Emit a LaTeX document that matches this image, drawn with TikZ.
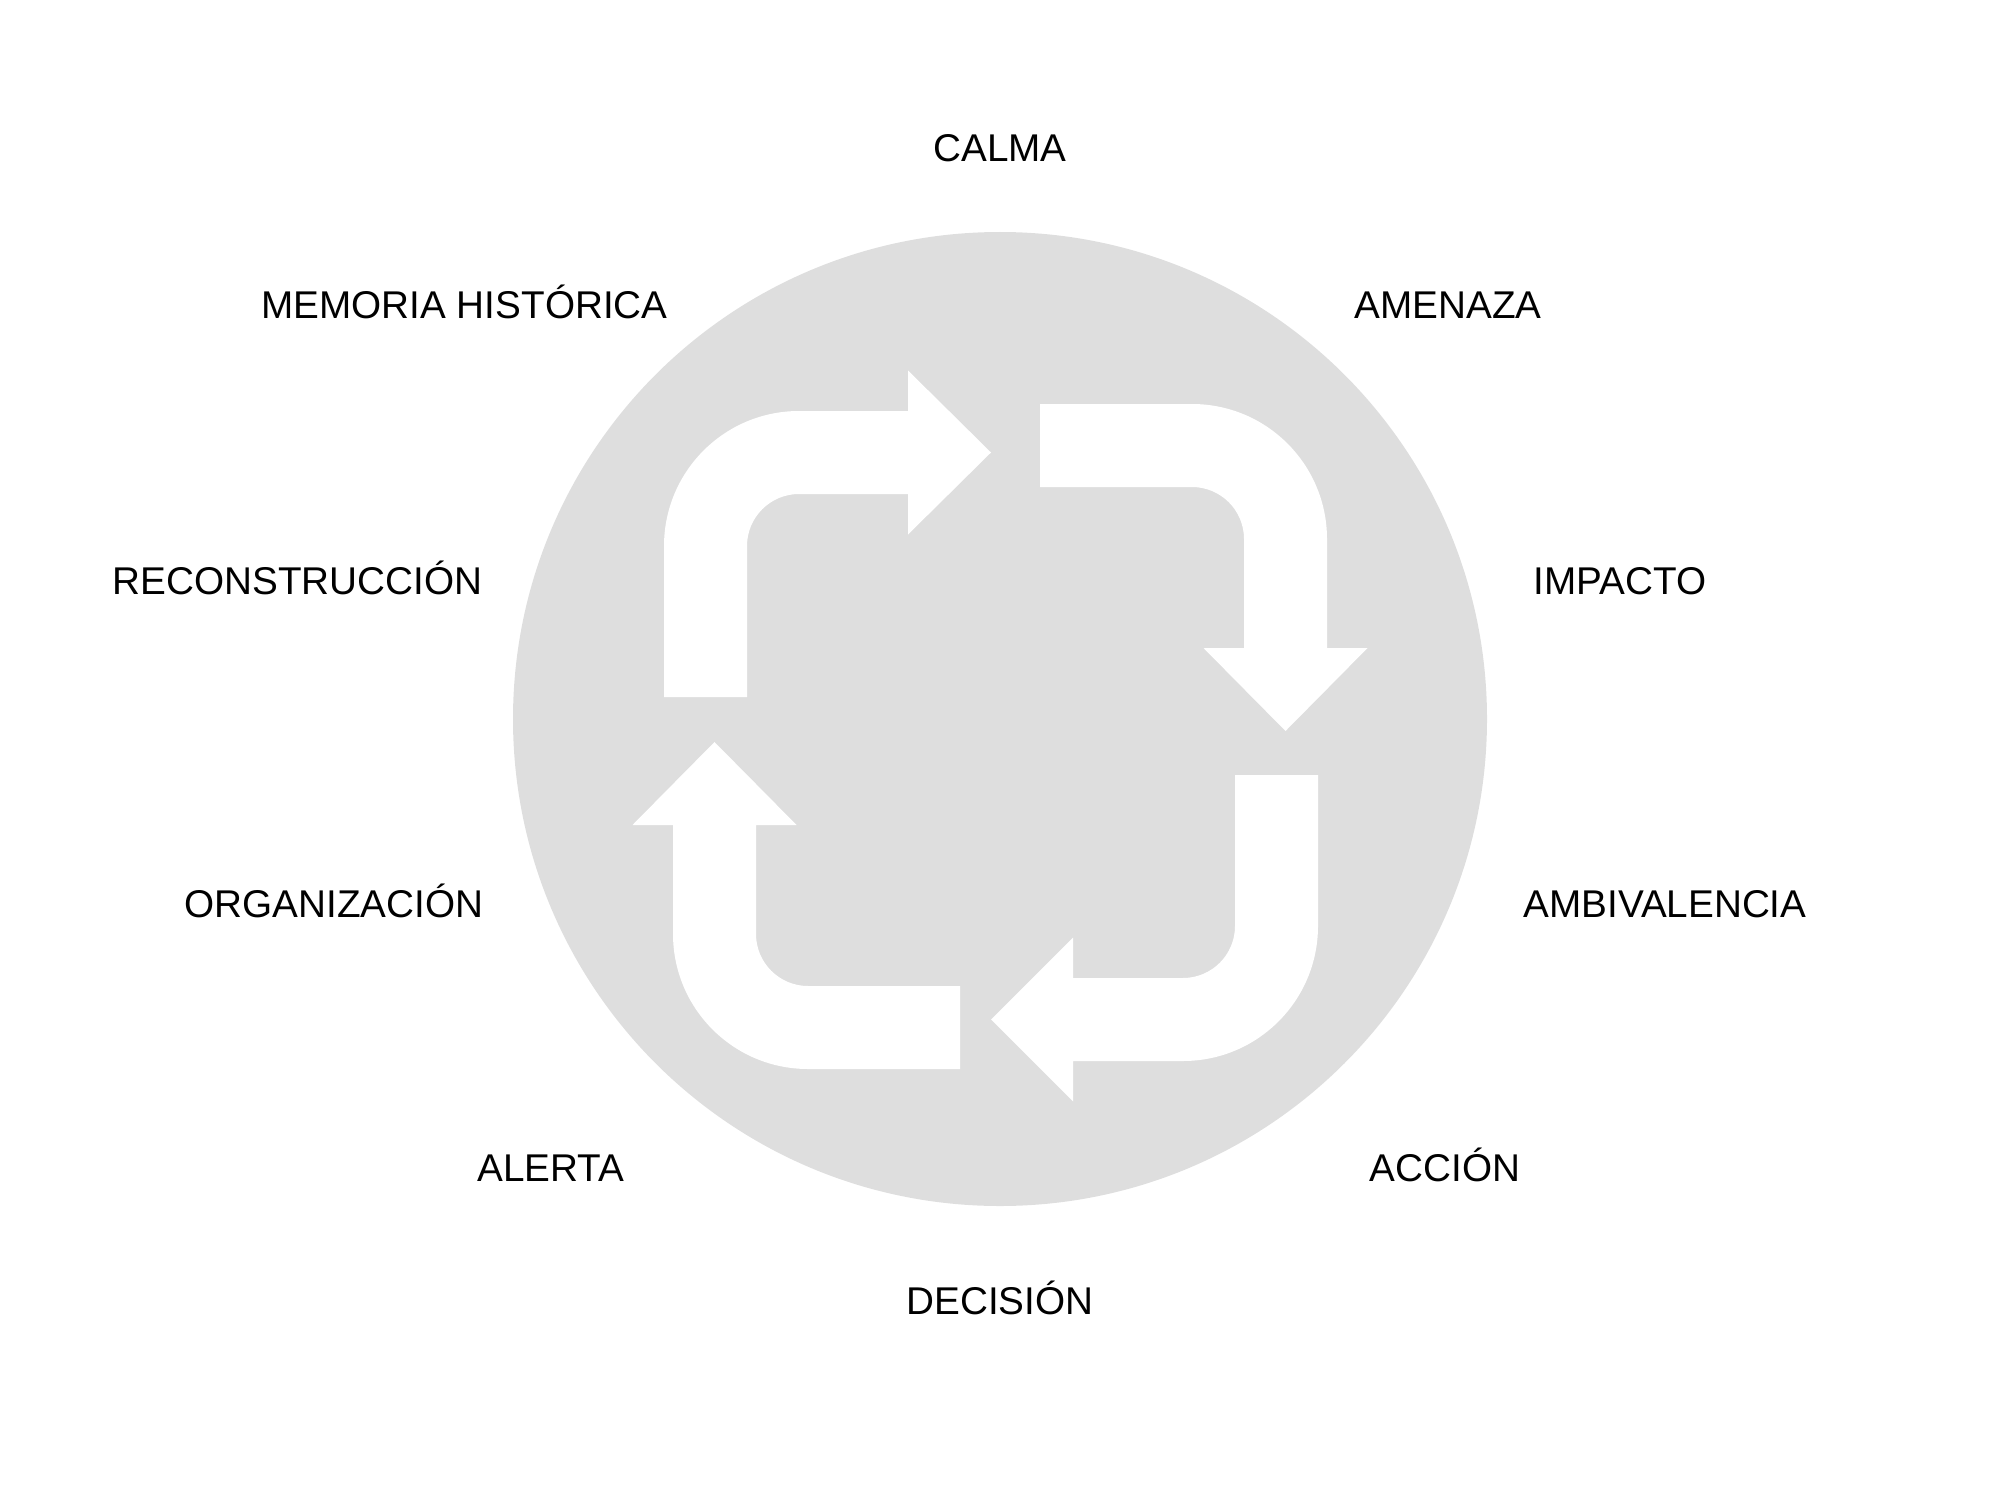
\documentclass[tikz,border=0pt]{standalone}
\usepackage{fontspec}
\setmainfont{Liberation Sans}
\usepackage{tikz}
\usetikzlibrary{calc}
\usepackage{xcolor}
\definecolor{discgray}{RGB}{222,222,222}

\begin{document}
\begin{tikzpicture}[x=0.01cm, y=-0.01cm, 
  phase/.style={font=\fontsize{11}{13}\selectfont, anchor=base, inner sep=0pt}, 
  cyclearrow/.style={fill=white, draw=none}]
\useasboundingbox (0, 0) rectangle (2000, 1500); 
\fill[discgray] (1000, 719) circle (487); 
% top left, up then right
\path[cyclearrow] (664, 697)--(664, 546) arc (180:270:135)--(908, 411)--(908, 370.5)--(991, 452.5)--(908, 534.5)--(908, 494)--(799, 494) arc (270:180:52)--(747, 697)--cycle; 
% top right, right then down
\path[cyclearrow] (1040, 404)--(1192, 404) arc (270:360:135)--(1327, 648)--(1367.5, 648)--(1285.5, 731)--(1203.5, 648)--(1244, 648)--(1244, 539) arc (0:-90:52)--(1040, 487)--cycle; 
% bottom right, down then left
\path[cyclearrow] (1235, 775)--(1318, 775)--(1318, 926) arc (0:90:135)--(1073, 1061)--(1073, 1101.5)--(991, 1019.5)--(1073, 937.5)--(1073, 978)--(1183, 978) arc (90:0:52)--cycle; 
% bottom left, left then up
\path[cyclearrow] (960, 986)--(808, 986) arc (90:180:52)--(756, 825)--(796.5, 825)--(714.5, 742)--(632.5, 825)--(673, 825)--(673, 934) arc (180:90:135)--(960, 1069)--cycle; 

\node[phase] (calma) at (1000, 162) {CALMA}; 
\node[phase] (amenaza) at (1448, 318) {AMENAZA}; 
\node[phase] (impacto) at (1620, 594) {IMPACTO}; 
\node[phase] (ambivalencia) at (1665, 917) {AMBIVALENCIA}; 
\node[phase] (accion) at (1445, 1181) {ACCIÓN}; 
\node[phase] (decision) at (1000, 1314) {DECISIÓN}; 
\node[phase] (alerta) at (551, 1181) {ALERTA}; 
\node[phase] (organizacion) at (334, 917) {ORGANIZACIÓN}; 
\node[phase] (reconstruccion) at (297.5, 594) {RECONSTRUCCIÓN}; 
\node[phase] (memoria) at (464.5, 318) {MEMORIA HISTÓRICA}; 
\end{tikzpicture}
\end{document}
